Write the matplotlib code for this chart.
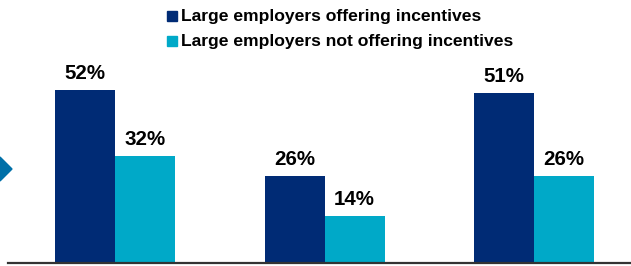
import matplotlib
matplotlib.use("Agg")
import matplotlib.pyplot as plt
from matplotlib.patches import Polygon, Rectangle

plt.rcParams['font.family'] = ['Liberation Sans', 'DejaVu Sans']

groups = [0, 1, 2]
series_names = ["Large employers offering incentives",
                "Large employers not offering incentives"]
offering = [52, 26, 51]
not_offering = [32, 14, 26]
colors = ["#002B75", "#00A9C8"]

W, H = 631, 266
fig = plt.figure(figsize=(W / 100, H / 100), dpi=100)

# axes: left px 8 -> right px 631, bottom px 263 -> top px 0
ax = fig.add_axes([8 / W, (H - 263) / H, (W - 8) / W, 263 / H])
px_per_unit = 209.5
center0 = 115
ax.set_xlim((8 - center0) / px_per_unit, (W - center0) / px_per_unit)
ax.set_ylim(0, 263 / 3.33)
bw = 60 / px_per_unit

for vals, off, c in [(offering, -bw / 2, colors[0]), (not_offering, bw / 2, colors[1])]:
    xs = [g + off for g in groups]
    ax.bar(xs, vals, width=bw, color=c, linewidth=0)
    for x, v in zip(xs, vals):
        ax.annotate(f"{v}%", (x, v), xytext=(0, 5), textcoords="offset points",
                    ha="center", va="bottom", fontsize=14.8, fontweight="bold",
                    color="#000000")

for s in ["top", "left", "right"]:
    ax.spines[s].set_visible(False)
ax.spines["bottom"].set_color("#333333")
ax.spines["bottom"].set_linewidth(1.6)
ax.set_xticks([])
ax.set_yticks([])
ax.patch.set_alpha(0)

# legend (manual)
for i, (name, c) in enumerate(zip(series_names, colors)):
    yc = 15.7 + i * 25
    fig.patches.append(Rectangle((167 / W, 1 - (yc + 5) / H), 10 / W, 10 / H,
                                 transform=fig.transFigure, color=c))
    fig.text(181 / W, 1 - (yc + 0.5) / H, name, ha="left", va="center",
             fontsize=12.6, fontweight="bold", color="#000000")

# decorative arrow at left edge
tri = Polygon([(0, 1 - 157 / H), (12 / W, 1 - 169 / H), (0, 1 - 181 / H)],
              closed=True, transform=fig.transFigure, color="#0070A8")
fig.patches.append(tri)

fig.savefig("out.png", dpi=100)
